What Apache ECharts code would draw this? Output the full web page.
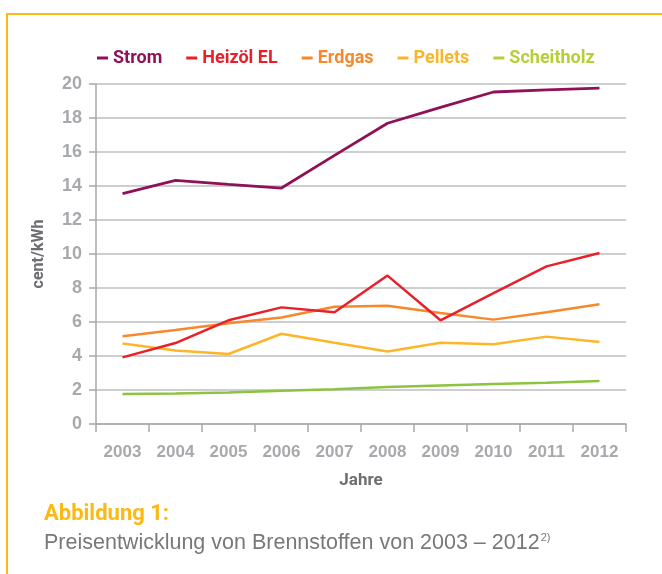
<!DOCTYPE html>
<html>
<head>
<meta charset="utf-8">
<script src="https://cdn.jsdelivr.net/npm/echarts@6/dist/echarts.min.js"></script>
<style>
  html, body { margin: 0; padding: 0; background: #fff; }
  #chart { width: 662px; height: 574px; }
</style>
</head>
<body>
<div id="chart"></div>
<script>
// Jahre (x-Achse)
const years = ['2003', '2004', '2005', '2006', '2007', '2008', '2009', '2010', '2011', '2012'];

// cent/kWh
const strom      = [13.55, 14.33, 14.1, 13.88, 15.8, 17.69, 18.63, 19.53, 19.65, 19.76];
const heizoel    = [3.92, 4.76, 6.1, 6.86, 6.57, 8.73, 6.1, 7.7, 9.27, 10.06];
const erdgas     = [5.16, 5.53, 5.92, 6.27, 6.9, 6.96, 6.53, 6.14, 6.57, 7.04];
const pellets    = [4.73, 4.33, 4.12, 5.31, 4.78, 4.27, 4.78, 4.69, 5.14, 4.82];
const scheitholz = [1.76, 1.8, 1.86, 1.96, 2.05, 2.18, 2.27, 2.35, 2.43, 2.53];

const names = ['Strom', 'Heizöl EL', 'Erdgas', 'Pellets', 'Scheitholz'];
const lineColors = ['#8F1157', '#E8202A', '#F6892B', '#FDB52A', '#8CC43F'];
const legendColors = ['#8F1157', '#E8202A', '#F6892B', '#FBB52B', '#B5CF39'];

const grey = '#A7A9AC';
const darkGrey = '#6D6E71';
const frameColor = '#FDB913';
const condensed = 'Roboto, "Liberation Sans", sans-serif';

const chart = echarts.init(document.getElementById('chart'), null, { renderer: 'canvas' });

const makeSeries = (name, data, i) => ({
  name: name,
  type: 'line',
  data: data,
  symbol: 'none',
  lineStyle: { width: i === 0 ? 2.8 : 2.5, color: lineColors[i] },
  itemStyle: { color: lineColors[i] },
  z: 10 - i
});

const option = {
  animation: false,
  backgroundColor: '#fff',
  legend: {
    left: 97,
    top: 49,
    padding: 0,
    icon: 'rect',
    itemWidth: 11,
    itemHeight: 3,
    itemGap: 24,
    textStyle: {
      fontFamily: condensed,
      fontWeight: 'bold',
      fontSize: 18
    },
    data: names.map((n, i) => ({
      name: n,
      itemStyle: { color: legendColors[i] },
      textStyle: { color: legendColors[i] }
    }))
  },
  grid: {
    left: 96,
    right: 36,
    top: 84,
    bottom: 150
  },
  xAxis: {
    type: 'category',
    data: years,
    boundaryGap: true,
    name: 'Jahre',
    nameLocation: 'middle',
    nameGap: 48,
    nameTextStyle: {
      fontFamily: condensed,
      fontWeight: 'bold',
      fontSize: 17,
      color: darkGrey
    },
    axisLine: { lineStyle: { color: grey, width: 1.5 } },
    axisTick: { show: true, length: 8, lineStyle: { color: grey, width: 1.5 } },
    axisLabel: {
      margin: 20,
      fontFamily: 'Liberation Sans',
      fontWeight: 'bold',
      fontSize: 17,
      color: grey
    }
  },
  yAxis: {
    type: 'value',
    min: 0,
    max: 20,
    interval: 2,
    name: 'cent/kWh',
    nameLocation: 'middle',
    nameGap: 49,
    nameRotate: 90,
    nameTextStyle: {
      fontFamily: condensed,
      fontWeight: 'bold',
      fontSize: 16,
      color: darkGrey
    },
    axisLine: { show: true, lineStyle: { color: grey, width: 1.5 } },
    axisTick: { show: true, length: 7, lineStyle: { color: grey, width: 1.5 } },
    axisLabel: {
      margin: 14,
      fontFamily: 'Liberation Sans',
      fontWeight: 'bold',
      fontSize: 18,
      color: grey
    },
    splitLine: { lineStyle: { color: '#BCBEC0', width: 1.5 } }
  },
  series: [
    makeSeries(names[0], strom, 0),
    makeSeries(names[1], heizoel, 1),
    makeSeries(names[2], erdgas, 2),
    makeSeries(names[3], pellets, 3),
    makeSeries(names[4], scheitholz, 4)
  ],
  graphic: [
    {
      type: 'rect',
      shape: { x: 7, y: 14, width: 700, height: 620 },
      style: { fill: null, stroke: frameColor, lineWidth: 2 },
      silent: true
    },
    {
      type: 'text',
      left: 44,
      top: 503,
      style: {
        text: 'Abbildung 1:',
        fill: frameColor,
        font: 'bold 22px Roboto, "Liberation Sans", sans-serif'
      }
    },
    {
      type: 'text',
      left: 44,
      top: 532,
      style: {
        text: 'Preisentwicklung von Brennstoffen von 2003 – 2012{sup|2)}',
        fill: '#77787B',
        font: '21.5px "Liberation Sans"',
        rich: {
          sup: {
            fontSize: 11,
            fontFamily: 'Liberation Sans',
            fill: '#77787B',
            padding: [0, 0, 12, 1]
          }
        }
      }
    }
  ]
};

chart.setOption(option);
</script>
</body>
</html>
